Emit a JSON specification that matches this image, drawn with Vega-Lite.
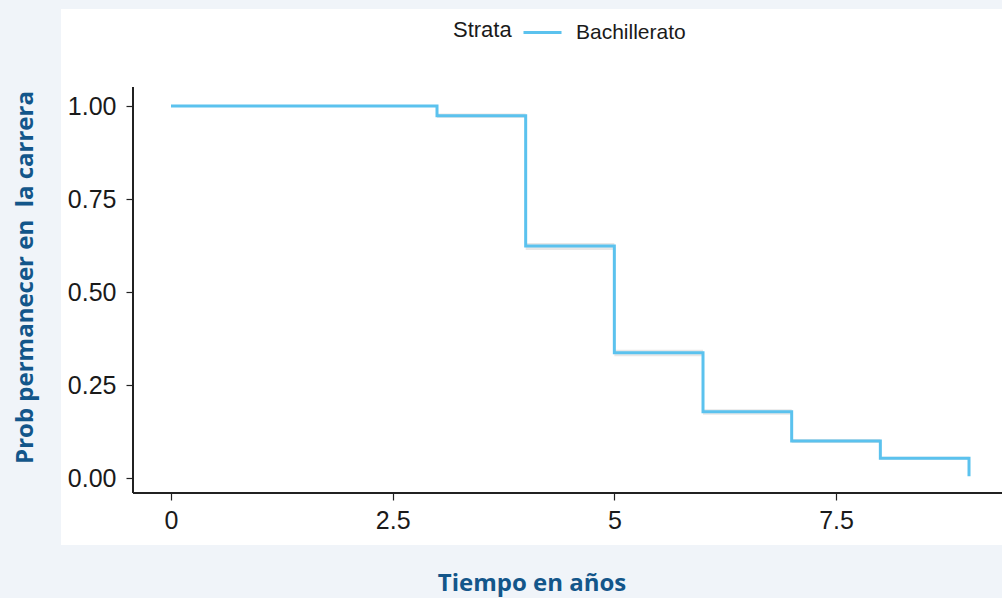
{
  "$schema": "https://vega.github.io/schema/vega-lite/v6.json",
  "width": 941,
  "height": 536,
  "autosize": {"type": "none"},
  "padding": {"left": 61, "top": 9, "right": 0, "bottom": 53},
  "background": "#f0f4f9",
  "config": {
    "view": {"fill": "white", "stroke": null},
    "axis": {"grid": false, "domain": false, "tickColor": "#222222", "tickSize": 7, "tickWidth": 1.2,
      "labelFont": "Liberation Sans", "labelFontSize": 25, "labelColor": "#1a1a1a",
      "titleFont": "Open Sans", "titleFontSize": 24, "titleFontWeight": "bold", "titleColor": "#13568a"}
  },
  "data": {"values": [
    {"t": 0, "surv": 1.0, "lower": 1.0, "upper": 1.0, "strata": "Bachillerato"},
    {"t": 3, "surv": 0.974, "lower": 0.968, "upper": 0.980, "strata": "Bachillerato"},
    {"t": 4, "surv": 0.624, "lower": 0.613, "upper": 0.632, "strata": "Bachillerato"},
    {"t": 5, "surv": 0.337, "lower": 0.327, "upper": 0.345, "strata": "Bachillerato"},
    {"t": 6, "surv": 0.178, "lower": 0.170, "upper": 0.185, "strata": "Bachillerato"},
    {"t": 7, "surv": 0.0995, "lower": 0.094, "upper": 0.105, "strata": "Bachillerato"},
    {"t": 8, "surv": 0.053, "lower": 0.049, "upper": 0.057, "strata": "Bachillerato"},
    {"t": 9, "surv": 0.005, "lower": 0.004, "upper": 0.006, "strata": "Bachillerato"}
  ]},
  "layer": [
    {
      "mark": {"type": "area", "interpolate": "step-after", "color": "#d4d4d4", "opacity": 0.55},
      "encoding": {
        "x": {"field": "t", "type": "quantitative", "scale": {"domain": [-1.2406, 9.372], "nice": false, "zero": false},
          "axis": {"values": [0, 2.5, 5, 7.5], "offset": -52, "labelPadding": 8, "title": "Tiempo en años", "titlePadding": 38, "labelFlush": false, "labelExpr": "datum.value == 0 ? '0' : format(datum.value, '~g')"}},
        "y": {"field": "lower", "type": "quantitative", "scale": {"domain": [-0.1801, 1.2608], "nice": false, "zero": false},
          "axis": {"values": [0, 0.25, 0.5, 0.75, 1], "format": ".2f", "offset": -72, "labelPadding": 10, "title": "Prob permanecer en\u00a0 la carrera", "titlePadding": 30, "labelFlush": false}},
        "y2": {"field": "upper"}
      }
    },
    {
      "mark": {"type": "line", "interpolate": "step-after", "strokeWidth": 3},
      "encoding": {
        "x": {"field": "t", "type": "quantitative"},
        "y": {"field": "surv", "type": "quantitative"},
        "color": {"field": "strata", "type": "nominal", "scale": {"range": ["#5BC2EE"]},
          "legend": {"title": "Strata", "orient": "none", "legendX": 392, "legendY": 3, "direction": "horizontal", "titleOrient": "left",
            "titleAnchor": "middle", "titleBaseline": "line-top", "titleLineHeight": 8,
            "symbolType": "stroke", "symbolSize": 1444, "symbolStrokeWidth": 3, "titleFont": "Liberation Sans", "titleFontSize": 22, "titleFontWeight": "normal", "titleColor": "#1a1a1a",
            "labelFont": "Liberation Sans", "labelFontSize": 21, "labelColor": "#1a1a1a", "titlePadding": 10, "labelOffset": 13}}
      }
    },
    {
      "mark": {"type": "rule", "color": "#222222", "strokeWidth": 1.5},
      "encoding": {"x": {"datum": -0.4286}, "x2": {"datum": 9.372}, "y": {"datum": -0.0403}}
    },
    {
      "mark": {"type": "rule", "color": "#222222", "strokeWidth": 1.5},
      "encoding": {"x": {"datum": -0.4286}, "y": {"datum": -0.0403}, "y2": {"datum": 1.051}}
    }
  ]
}
